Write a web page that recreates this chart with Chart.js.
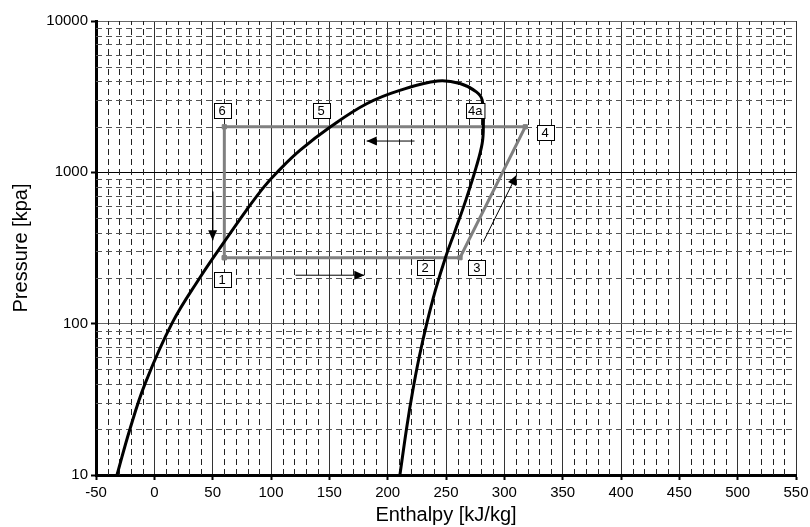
<!DOCTYPE html>
<html>
<head>
<meta charset="utf-8">
<title>Pressure-Enthalpy Diagram</title>
<script src="https://cdn.jsdelivr.net/npm/chart.js@4.4.1/dist/chart.umd.min.js"></script>
<style>
    html, body { margin: 0; padding: 0; background: #fff; }
    #chartWrap { width: 810px; height: 527px; }
</style>
</head>
<body>
<div id="chartWrap"><canvas id="phChart"></canvas></div>
<script>
// Saturation dome: liquid side up to the critical point, then back down the vapour side
const domeEnthalpy = [-32, -21, -8, 15, 39, 59, 79, 94, 105.5, 125, 151, 182, 211, 243, 262, 276, 281, 282, 281, 276, 267, 258, 249.5, 241, 233.5, 227, 221.5, 216.5, 210.5];
const domePressure = [10, 20, 40, 100, 201, 339, 563, 802, 1006, 1400, 2000, 2840, 3490, 4010, 3860, 3400, 3000, 2000, 1550, 1090, 655, 415, 273, 167, 100, 60, 36, 21, 10];

// Cycle: evaporation 1-3, compression 3-4, condensation 4-6, expansion 6-1
const cycleEnthalpy = [60, 262, 318, 60, 60];
const cyclePressure = [273, 273, 2000, 2000, 273];

// State point labels
const stateNames = ['1', '2', '3', '4', '4a', '5', '6'];
const stateEnthalpy = [58, 232, 276.5, 335, 275, 143, 58];
const statePressure = [197, 234, 234, 1845, 2570, 2570, 2570];

// Flow direction arrows, tail -> tip
const arrowTailH = [223, 121, 50, 282];
const arrowTailP = [1610, 209, 746, 348];
const arrowTipH = [182, 180, 50, 310.5];
const arrowTipP = [1610, 209, 356, 959];

// Axis ticks
const enthalpyTicks = [-50, 0, 50, 100, 150, 200, 250, 300, 350, 400, 450, 500, 550];
const pressureTicks = [10, 100, 1000, 10000];

const fontFamily = '"Liberation Sans", Arial, Helvetica, sans-serif';

const toPoints = (xs, ys) => xs.map((v, i) => ({ x: v, y: ys[i] }));

// Dashed minor grid: every 10 kJ/kg and at 2..9 of each pressure decade
const minorGrid = {
    id: 'minorGrid',
    beforeDatasetsDraw(chart) {
        const { ctx, chartArea: area, scales: { x, y } } = chart;
        ctx.save();
        ctx.lineWidth = 1;
        ctx.setLineDash([6, 4]);

        ctx.strokeStyle = '#222';
        for (let h = x.min + 10; h < x.max; h += 10) {
            if (h % 50 === 0) continue;
            const px = Math.round(x.getPixelForValue(h)) + 0.5;
            ctx.beginPath();
            ctx.moveTo(px, area.bottom);
            ctx.lineTo(px, area.top);
            ctx.stroke();
        }

        ctx.strokeStyle = '#555';
        for (let d = 10; d < 10000; d *= 10) {
            for (let k = 2; k <= 9; k++) {
                const py = Math.round(y.getPixelForValue(k * d)) + 0.5;
                ctx.beginPath();
                ctx.moveTo(area.left, py);
                ctx.lineTo(area.right, py);
                ctx.stroke();
            }
        }
        ctx.restore();
    }
};

// Filled heads on the arrow datasets
const arrowHeads = {
    id: 'arrowHeads',
    afterDatasetsDraw(chart) {
        const { ctx } = chart;
        chart.data.datasets.forEach((ds, i) => {
            if (!ds.arrowHead) return;
            const pts = chart.getDatasetMeta(i).data;
            const a = pts[pts.length - 2];
            const b = pts[pts.length - 1];
            const ang = Math.atan2(b.y - a.y, b.x - a.x);
            const len = 10, half = 4.5;
            ctx.save();
            ctx.translate(b.x, b.y);
            ctx.rotate(ang);
            ctx.fillStyle = '#000';
            ctx.beginPath();
            ctx.moveTo(0, 0);
            ctx.lineTo(-len, -half);
            ctx.lineTo(-len, half);
            ctx.closePath();
            ctx.fill();
            ctx.restore();
        });
    }
};

// Boxed state numbers
const stateLabels = {
    id: 'stateLabels',
    afterDatasetsDraw(chart) {
        const { ctx, scales: { x, y } } = chart;
        ctx.save();
        ctx.font = '13px ' + fontFamily;
        ctx.textAlign = 'center';
        ctx.textBaseline = 'middle';
        stateNames.forEach((name, i) => {
            const cx = x.getPixelForValue(stateEnthalpy[i]);
            const cy = y.getPixelForValue(statePressure[i]);
            const w = Math.max(17, ctx.measureText(name).width + 4);
            const hgt = 15;
            const left = Math.round(cx - w / 2) + 0.5;
            const top = Math.round(cy - hgt / 2) + 0.5;
            ctx.fillStyle = '#fff';
            ctx.fillRect(left, top, w, hgt);
            ctx.strokeStyle = '#000';
            ctx.lineWidth = 1;
            ctx.strokeRect(left, top, w, hgt);
            ctx.fillStyle = '#000';
            ctx.fillText(name, cx, cy + 1);
        });
        ctx.restore();
    }
};

const arrowSets = arrowTailH.map((h, i) => ({
    data: [{ x: h, y: arrowTailP[i] }, { x: arrowTipH[i], y: arrowTipP[i] }],
    showLine: true,
    borderColor: '#000',
    borderWidth: 1,
    pointRadius: 0,
    arrowHead: true
}));

const ctx = document.getElementById('phChart').getContext('2d');
const phChart = new Chart(ctx, {
    type: 'scatter',
    data: {
        datasets: [
            ...arrowSets,
            {
                label: 'Saturation',
                data: toPoints(domeEnthalpy, domePressure),
                showLine: true,
                borderColor: '#000',
                borderWidth: 3,
                tension: 0.4,
                pointRadius: 0
            },
            {
                label: 'Cycle',
                data: toPoints(cycleEnthalpy, cyclePressure),
                showLine: true,
                borderColor: '#808080',
                borderWidth: 3,
                tension: 0,
                pointStyle: 'rect',
                pointRadius: 3,
                pointBackgroundColor: '#808080',
                pointBorderColor: '#808080',
                pointBorderWidth: 1
            }
        ]
    },
    options: {
        responsive: true,
        maintainAspectRatio: false,
        animation: false,
        layout: { padding: { top: 21, right: 14, left: 0, bottom: 0 } },
        plugins: {
            legend: { display: false },
            tooltip: { enabled: false }
        },
        scales: {
            x: {
                type: 'linear',
                min: -50,
                max: 550,
                afterBuildTicks: (s) => { s.ticks = enthalpyTicks.map(v => ({ value: v })); },
                afterFit: (s) => { s.height = 52; s.paddingLeft = 0; s.paddingRight = 0; },
                grid: { color: '#333', lineWidth: 1, tickLength: 5, tickColor: '#000', tickWidth: 2 },
                border: { color: '#000', width: 3 },
                ticks: {
                    color: '#000',
                    font: { size: 15, family: fontFamily },
                    padding: 4,
                    maxRotation: 0,
                    autoSkip: false,
                    callback: (v) => String(v)
                },
                title: {
                    display: true,
                    text: 'Enthalpy [kJ/kg]',
                    color: '#000',
                    font: { size: 20, family: fontFamily },
                    padding: { top: 0, bottom: 0 }
                }
            },
            y: {
                type: 'logarithmic',
                min: 10,
                max: 10000,
                afterBuildTicks: (s) => { s.ticks = pressureTicks.map(v => ({ value: v })); },
                afterFit: (s) => { s.width = 96; s.paddingTop = 0; s.paddingBottom = 0; },
                grid: {
                    color: (c) => (c.tick && c.tick.value === 1000 ? '#000' : '#666'),
                    lineWidth: 1,
                    tickLength: 5,
                    tickColor: '#000',
                    tickWidth: 2
                },
                border: { color: '#000', width: 3 },
                ticks: {
                    color: '#000',
                    font: { size: 15, family: fontFamily },
                    padding: 3,
                    autoSkip: false,
                    callback: (v) => String(v)
                },
                title: {
                    display: true,
                    text: 'Pressure [kpa]',
                    color: '#000',
                    font: { size: 20, family: fontFamily },
                    padding: { top: 9, bottom: 0 }
                }
            }
        }
    },
    plugins: [minorGrid, arrowHeads, stateLabels]
});
</script>
</body>
</html>
